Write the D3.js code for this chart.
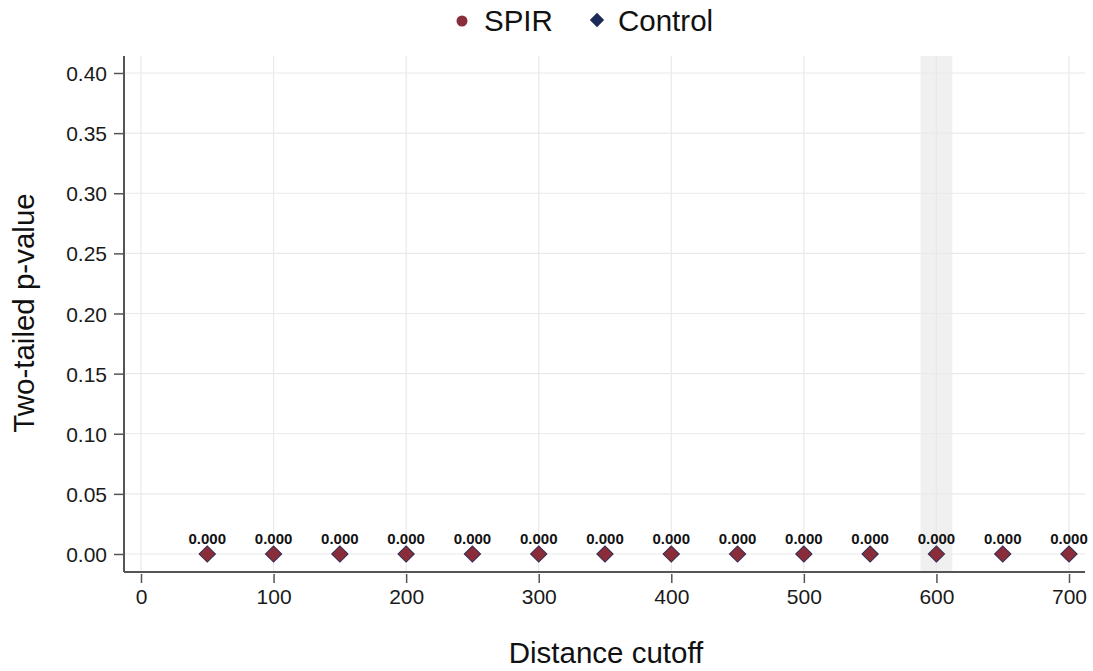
<!DOCTYPE html>
<html>
<head>
<meta charset="utf-8">
<script src="https://cdn.jsdelivr.net/npm/d3@7"></script>
<style>
  body { margin: 0; background: #fff; font-family: "Liberation Sans", Arial, sans-serif; }
  .grid line { stroke: #e9e9e9; stroke-width: 1.2; }
  .axis path, .axis line { stroke: #555; }
  .axis text { fill: #1a1a1a; font-size: 21px; font-family: "Liberation Sans", Arial, sans-serif; }
</style>
</head>
<body>
<div id="chart"></div>
<script>
// data
const cutoffs = [50, 100, 150, 200, 250, 300, 350, 400, 450, 500, 550, 600, 650, 700];
const spirP = [0, 0, 0, 0, 0, 0, 0, 0, 0, 0, 0, 0, 0, 0];
const controlP = [0, 0, 0, 0, 0, 0, 0, 0, 0, 0, 0, 0, 0, 0];
const pLabels = ["0.000", "0.000", "0.000", "0.000", "0.000", "0.000", "0.000",
                 "0.000", "0.000", "0.000", "0.000", "0.000", "0.000", "0.000"];
const xTicks = [0, 100, 200, 300, 400, 500, 600, 700];
const yTicks = [0, 0.05, 0.10, 0.15, 0.20, 0.25, 0.30, 0.35, 0.40];
const band = [588, 612];
const series = ["SPIR", "Control"];
const colors = { SPIR: "#8a2d3b", Control: "#1c2a56" };

const margin = { top: 56, right: 8, bottom: 99, left: 124 },
    width = 1093 - margin.left - margin.right,
    height = 671 - margin.top - margin.bottom;

const svg = d3.select("#chart")
    .append("svg")
    .attr("width", 1093)
    .attr("height", 671);

const g = svg.append("g")
    .attr("transform", `translate(${margin.left},${margin.top})`);

const xScale = d3.scaleLinear().domain([0, 700]).range([17, 945]);
const yScale = d3.scaleLinear().domain([0, 0.4]).range([498, 17]);

// highlighted band
g.append("rect")
    .attr("x", xScale(band[0]))
    .attr("y", 0)
    .attr("width", xScale(band[1]) - xScale(band[0]))
    .attr("height", height)
    .attr("fill", "#f0f0f0");

// grid
const grid = g.append("g").attr("class", "grid");
grid.selectAll(".gy").data(yTicks).join("line")
    .attr("x1", 0).attr("x2", width)
    .attr("y1", d => yScale(d)).attr("y2", d => yScale(d));
grid.selectAll(".gx").data(xTicks).join("line")
    .attr("y1", 0).attr("y2", height)
    .attr("x1", d => xScale(d)).attr("x2", d => xScale(d));

// axes
const xAxis = d3.axisBottom(xScale).tickValues(xTicks).tickSize(10).tickPadding(7);
const yAxis = d3.axisLeft(yScale).tickValues(yTicks).tickSize(10).tickPadding(7)
    .tickFormat(d3.format(".2f"));

const xDisplay = g.append("g")
    .attr("class", "axis x-axis")
    .attr("transform", `translate(0,${height})`)
    .call(xAxis);
xDisplay.select(".domain").remove();
xDisplay.selectAll(".tick line").attr("y1", 2).attr("y2", 11).attr("stroke-width", 1.5);
xDisplay.append("line")
    .attr("x1", 0).attr("x2", width).attr("y1", 0).attr("y2", 0)
    .attr("stroke", "#333").attr("stroke-width", 2);

const yDisplay = g.append("g")
    .attr("class", "axis y-axis")
    .call(yAxis);
yDisplay.select(".domain").remove();
yDisplay.selectAll(".tick line").attr("stroke-width", 1.5);
yDisplay.selectAll(".tick text").attr("dy", "0.36em");
yDisplay.append("line")
    .attr("x1", 0).attr("x2", 0).attr("y1", 0).attr("y2", height)
    .attr("stroke", "#555").attr("stroke-width", 2);

// markers
const diamond = (size) => d3.symbol().type(d3.symbolDiamond2).size(size);

g.selectAll(".control").data(cutoffs).join("path")
    .attr("class", "control")
    .attr("transform", (d, i) => `translate(${xScale(d)},${yScale(controlP[i])})`)
    .attr("d", diamond(200)())
    .attr("fill", colors.Control);

g.selectAll(".spir").data(cutoffs).join("path")
    .attr("class", "spir")
    .attr("transform", (d, i) => `translate(${xScale(d)},${yScale(spirP[i])})`)
    .attr("d", diamond(150)())
    .attr("fill", colors.SPIR);

// value labels
g.selectAll(".plabel").data(cutoffs).join("text")
    .attr("class", "plabel")
    .attr("x", d => xScale(d))
    .attr("y", (d, i) => yScale(spirP[i]) - 10)
    .attr("text-anchor", "middle")
    .attr("font-size", 15)
    .attr("font-weight", "bold")
    .attr("fill", "#111")
    .text((d, i) => pLabels[i]);

// axis titles
svg.append("text")
    .attr("x", 606)
    .attr("y", 663)
    .attr("text-anchor", "middle")
    .attr("font-size", 29.5)
    .attr("fill", "#111")
    .text("Distance cutoff");

svg.append("text")
    .attr("transform", "translate(34,313) rotate(-90)")
    .attr("text-anchor", "middle")
    .attr("font-size", 29.5)
    .attr("fill", "#111")
    .text("Two-tailed p-value");

// legend
const legend = svg.append("g");
legend.append("circle")
    .attr("cx", 462).attr("cy", 21).attr("r", 5.5)
    .attr("fill", colors.SPIR);
legend.append("text")
    .attr("x", 484).attr("y", 31)
    .attr("font-size", 29.5).attr("fill", "#111")
    .text(series[0]);
legend.append("path")
    .attr("transform", "translate(597,20)")
    .attr("d", diamond(130)())
    .attr("fill", colors.Control);
legend.append("text")
    .attr("x", 618).attr("y", 31)
    .attr("font-size", 29.5).attr("fill", "#111")
    .text(series[1]);
</script>
</body>
</html>
